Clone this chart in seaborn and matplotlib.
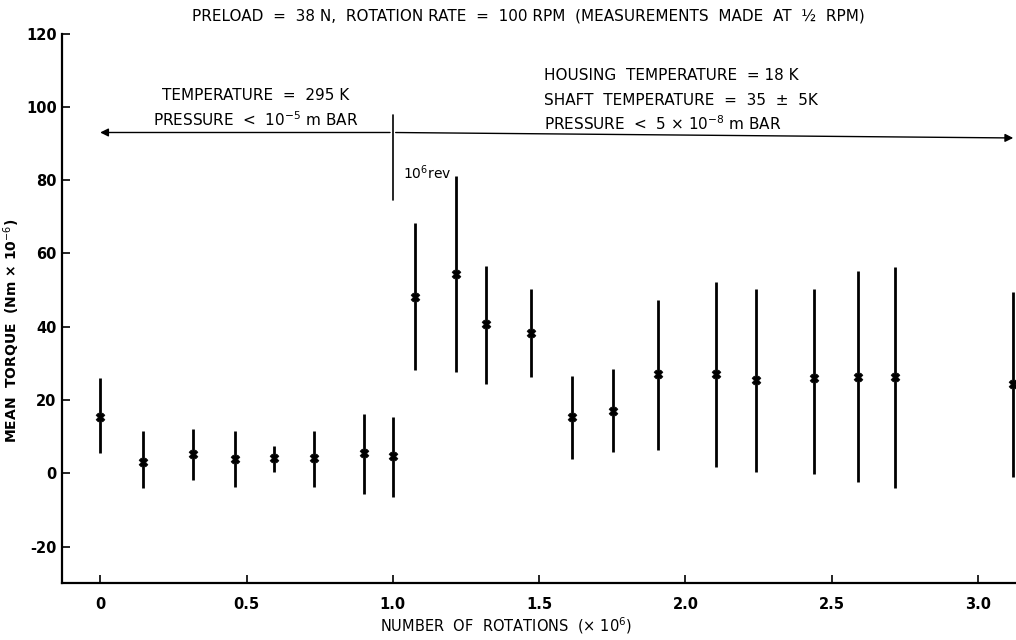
import pandas as pd
import matplotlib
matplotlib.use("Agg")
import matplotlib.pyplot as plt
import seaborn as sns

# values
rotations = [0.0, 0.146, 0.317, 0.459, 0.595, 0.732, 0.903, 1.0, 1.077, 1.217, 1.319,
             1.471, 1.611, 1.753, 1.906, 2.106, 2.241, 2.439, 2.590, 2.715, 3.12]
torque_mean = [15.4, 3.2, 5.3, 3.8, 4.1, 4.1, 5.6, 4.7, 48.2, 54.5, 40.7,
               38.2, 15.3, 17.1, 27.1, 27.1, 25.4, 25.9, 26.3, 26.3, 24.5]
torque_high = [25.9, 11.5, 12.0, 11.6, 7.4, 11.6, 16.2, 15.3, 68.3, 81.1, 56.6,
               50.4, 26.5, 28.4, 47.3, 52.1, 50.3, 50.4, 55.3, 56.3, 49.5]
torque_low = [5.5, -4.1, -1.8, -3.7, 0.3, -3.7, -5.5, -6.4, 28.2, 27.7, 24.5,
              26.3, 3.9, 5.9, 6.4, 1.8, 0.4, -0.3, -2.3, -3.9, -0.9]

x_ticks = [0, 0.5, 1.0, 1.5, 2.0, 2.5, 3.0]
x_ticklabels = ["0", "0.5", "1.0", "1.5", "2.0", "2.5", "3.0"]
y_ticks = [-20, 0, 20, 40, 60, 80, 100, 120]

df = pd.DataFrame({"rot": rotations, "mean": torque_mean,
                   "high": torque_high, "low": torque_low})

sns.set_style("ticks")
plt.rcParams['font.family'] = ['DejaVu Sans']
plt.rcParams['axes.unicode_minus'] = False
plt.rcParams['text.color'] = 'black'
plt.rcParams['axes.labelcolor'] = 'black'
plt.rcParams['xtick.color'] = 'black'
plt.rcParams['ytick.color'] = 'black'

fig = plt.figure(figsize=(10.16, 6.4), dpi=100)
ax = fig.add_axes([0.0613, 0.0886, 0.9387, 0.859])

# error bars then the x markers
ax.vlines(df["rot"], df["low"], df["high"], color="black", linewidth=2.0)
sns.scatterplot(data=df, x="rot", y="mean", marker="X", s=40, color="black",
                edgecolor="black", linewidth=0.5, ax=ax, zorder=3)

ax.set_xlim(-0.13, 3.13)
ax.set_ylim(-30, 120)
ax.set_xticks(x_ticks)
ax.set_xticklabels(x_ticklabels, fontweight="bold")
ax.set_yticks(y_ticks)
ax.set_yticklabels([str(v) for v in y_ticks], fontweight="bold")
ax.tick_params(direction="in", length=6, width=1.2, labelsize=10.5, pad=4)
ax.tick_params(axis="x", pad=10)
for s in ["top", "right"]:
    ax.spines[s].set_visible(False)
for s in ["left", "bottom"]:
    ax.spines[s].set_linewidth(1.6)
    ax.spines[s].set_color("black")

ax.set_xlabel("NUMBER  OF  ROTATIONS  (× 10$^{6}$)", fontsize=10.5)
ax.xaxis.set_label_coords(0.465, -0.058)
ax.set_ylabel("MEAN  TORQUE  (Nm × 10$^{-6}$)", fontsize=10, fontweight="bold")
ax.yaxis.set_label_coords(-0.042, 0.46)

# condition arrows
ax.annotate("", xy=(-0.01, 93), xytext=(1.0, 93),
            arrowprops=dict(arrowstyle="-|>", color="black", lw=1.0, mutation_scale=12))
ax.annotate("", xy=(3.13, 91.5), xytext=(1.0, 93),
            arrowprops=dict(arrowstyle="-|>", color="black", lw=1.0, mutation_scale=12))
ax.plot([1.0, 1.0], [74.5, 97.7], color="black", linewidth=1.2)
ax.text(1.036, 82, "10$^{6}$rev", fontsize=10, va="center", ha="left")

ax.text(0.53, 103, "TEMPERATURE  =  295 K", fontsize=11, ha="center", va="center")
ax.text(0.53, 96.5, "PRESSURE  <  10$^{-5}$ m BAR", fontsize=11, ha="center", va="center")

ax.text(1.515, 108.6, "HOUSING  TEMPERATURE  = 18 K", fontsize=11, ha="left", va="center")
ax.text(1.515, 101.8, "SHAFT  TEMPERATURE  =  35  ±  5K", fontsize=11, ha="left", va="center")
ax.text(1.515, 95.3, "PRESSURE  <  5 × 10$^{-8}$ m BAR", fontsize=11, ha="left", va="center")

fig.text(0.52, 0.975, "PRELOAD  =  38 N,  ROTATION RATE  =  100 RPM  (MEASUREMENTS  MADE  AT  ½  RPM)",
         fontsize=11, ha="center", va="center")

fig.savefig("out.png", dpi=100)
